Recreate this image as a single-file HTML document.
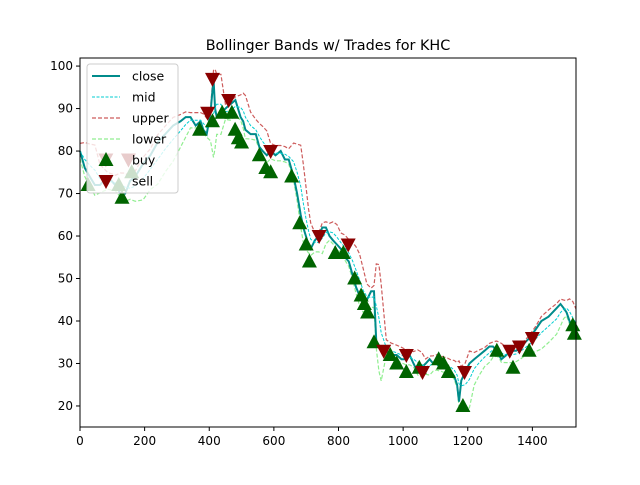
<!DOCTYPE html>
<html><head><meta charset="utf-8"><style>
body{margin:0;background:#fff;width:640px;height:480px;overflow:hidden}
text{font-family:"DejaVu Sans","Liberation Sans",sans-serif}
</style></head><body>
<svg id="chart" width="640" height="480" xmlns="http://www.w3.org/2000/svg">
<rect width="640" height="480" fill="#fff"/>
<text x="328" y="50" text-anchor="middle" font-size="14.4">Bollinger Bands w/ Trades for KHC</text>
<g id="plot"></g>
<g id="axes"></g>
<rect x="80" y="58" width="496" height="369" fill="none" stroke="#000" stroke-width="1"/>
<g id="legend"></g>
</svg>
<script>
const days=[0,15,30,46,62,85,109,125,140,155,171,195,218,240,264,288,311,327,342,358,373,382,392,404,413,418,423,436,450,465,481,497,505,512,528,544,555,565,578,590,605,621,634,646,661,672,683,691,699,707,714,727,739,750,761,772,783,795,807,820,832,843,854,865,876,888,901,910,917,925,932,948,963,980,995,1008,1020,1032,1045,1057,1070,1082,1093,1103,1115,1125,1137,1149,1158,1167,1173,1180,1192,1205,1220,1236,1252,1267,1278,1289,1296,1304,1320,1335,1350,1366,1378,1391,1410,1428,1450,1475,1487,1497,1506,1515,1525,1535];
const closeVals=[80,76,74,72,72,74,72,70,70,73,74,77,79,82,84,86,87,88,88,86,87,85,84,89,97,90,88,89,90,91,92,88,87,85,84,84,81,80,79,80,79,80,78,78,74,70,65,62,60,58,57,59,60,62,62,60,59,58,57,55,54,51,48,46,44,45,47,47,35,34,33,33,32,32,31,31,32,30,28,29,30,31,30,30,29,30,29,28,27,25,21,26,28,30,31,32,33,34,34,33,32,31,32,33,33,34,35,36,38,40,41,43,44,43,42,40,38,38];
const buyDays=[25,120,130,160,370,410,440,470,480,490,500,555,575,590,655,680,700,710,790,815,850,870,880,890,910,960,980,1010,1050,1110,1125,1140,1185,1290,1340,1390,1525,1530];
const buyVals=[72,72,69,75,85,87,89,89,85,83,82,79,76,75,74,63,58,54,56,56,50,46,44,42,35,32,30,28,29,31,30,28,20,33,29,33,39,37];
const sellDays=[80,150,395,410,460,590,740,830,940,1010,1060,1190,1330,1360,1400];
const sellVals=[78,78,89,97,92,80,60,58,33,32,28,28,33,34,36];
const xTicks=[0,200,400,600,800,1000,1200,1400];
const yTicks=[20,30,40,50,60,70,80,90,100];
const X0=80,X1=576,Y0=427,Y1=58,XMIN=0,XMAX=1535,YMIN=15.05,YMAX=101.9;
const sx=v=>X0+(v-XMIN)/(XMAX-XMIN)*(X1-X0);
const sy=v=>Y0-(v-YMIN)/(YMAX-YMIN)*(Y0-Y1);
const NS="http://www.w3.org/2000/svg";
function mk(tag,parent,attrs){const e=document.createElementNS(NS,tag);for(const k in attrs)e.setAttribute(k,attrs[k]);parent.appendChild(e);return e;}
const plot=document.getElementById('plot'),axes=document.getElementById('axes');
const mid=[],up=[],lo=[];
for(let i=0;i<closeVals.length;i++){const w=closeVals.slice(Math.max(0,i-3),i+1);const m=w.reduce((a,b)=>a+b,0)/w.length;const sd=Math.sqrt(w.reduce((a,b)=>a+(b-m)*(b-m),0)/w.length);mid.push(m);up.push(m+Math.max(1.8,sd*2));lo.push(m-Math.max(1.8,sd*2));}
function line(vals,name,stroke,width,dash){const d=vals.map((v,i)=>(i?'L':'M')+sx(days[i]).toFixed(1)+','+sy(v).toFixed(1)).join('');const p=mk('path',plot,{d:d,fill:'none',stroke:stroke,'stroke-width':width});if(dash)p.setAttribute('stroke-dasharray',dash);

}
line(up,'upper-band','#cd5c5c',1.2,'4,2');
line(lo,'lower-band','#90ee90',1.2,'4,2');
line(closeVals,'close-line','#008b8b',2);
line(mid,'mid-line','#00ced1',1,'3,1.5');
buyDays.forEach((d,i)=>{const x=sx(d),y=sy(buyVals[i]);const t=mk('polygon',plot,{points:`${x},${y-8} ${x-7.5},${y+6} ${x+7.5},${y+6}`,fill:'#006400'});

});
sellDays.forEach((d,i)=>{const x=sx(d),y=sy(sellVals[i]);const t=mk('polygon',plot,{points:`${x},${y+8} ${x-7.5},${y-6} ${x+7.5},${y-6}`,fill:'#8b0000'});

});
xTicks.forEach(v=>{const x=sx(v);mk('line',axes,{x1:x,x2:x,y1:Y0,y2:Y0+4,stroke:'#000'});const t=mk('text',axes,{x:x,y:Y0+18,'text-anchor':'middle','font-size':12});t.textContent=v;

});
yTicks.forEach(v=>{const y=sy(v);mk('line',axes,{x1:X0-4,x2:X0,y1:y,y2:y,stroke:'#000'});const t=mk('text',axes,{x:X0-7,y:y+4,'text-anchor':'end','font-size':12});t.textContent=v;

});
const lg=document.getElementById('legend');
mk('rect',lg,{x:87,y:64,width:91,height:129,rx:3,fill:'rgba(255,255,255,0.8)',stroke:'#ccc'});
const items=[['close','line','#008b8b',2,''],['mid','line','#00ced1',1,'3,1.5'],['upper','line','#cd5c5c',1.2,'4,2'],['lower','line','#90ee90',1.2,'4,2'],['buy','up','#006400'],['sell','down','#8b0000']];
items.forEach((it,i)=>{const y=76+i*21;const g=mk('g',lg,{});


if(it[1]=='line'){const l=mk('line',g,{x1:92,x2:120,y1:y,y2:y,stroke:it[2],'stroke-width':it[3]});if(it[4])l.setAttribute('stroke-dasharray',it[4]);}
else if(it[1]=='up'){mk('polygon',g,{points:`106,${y-8} 98.5,${y+6} 113.5,${y+6}`,fill:it[2]});}
else{mk('polygon',g,{points:`106,${y+8} 98.5,${y-6} 113.5,${y-6}`,fill:it[2]});}
const t=mk('text',g,{x:132,y:y+4.5,'font-size':12.5});t.textContent=it[0];});
</script>
</body></html>
